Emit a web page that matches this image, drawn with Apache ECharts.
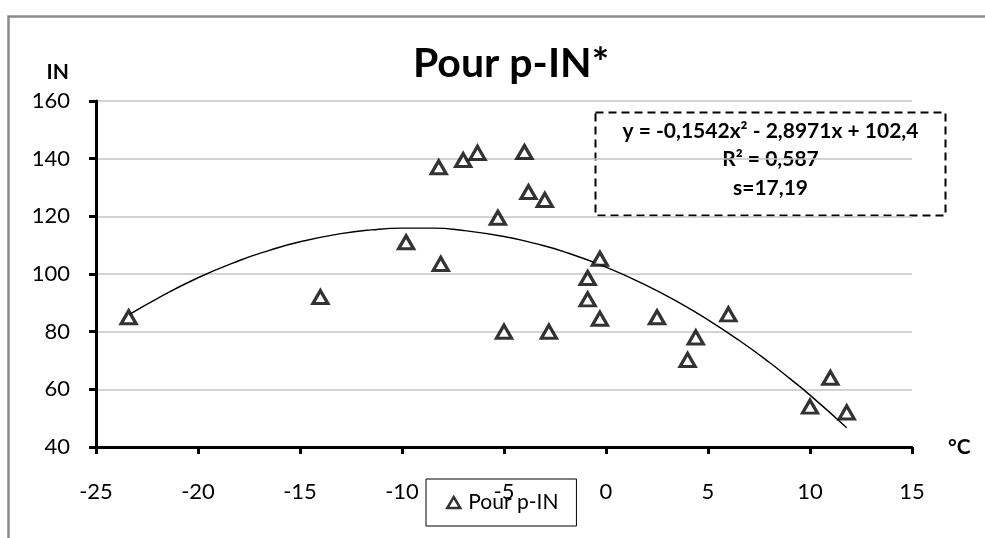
<!DOCTYPE html>
<html>
<head>
<meta charset="utf-8">
<script src="https://cdn.jsdelivr.net/npm/echarts@6/dist/echarts.min.js"></script>
<style>
  html, body { margin: 0; padding: 0; background: #fff; }
  #chart { width: 985px; height: 538px; }
</style>
</head>
<body>
<div id="chart"></div>
<script>
// temperature (°C) and IN values
var temp_c = [-23.4, -14.0, -9.8, -8.2, -8.1, -7.0, -6.3, -5.3, -5.0, -4.0, -3.8, -3.0, -2.8,
              -0.9, -0.9, -0.3, -0.3, 2.5, 4.0, 4.4, 6.0, 10.0, 11.0, 11.8];
var in_values = [85, 92, 111, 137, 103.5, 139.5, 142, 119.5, 80, 142.3, 128.4, 125.7, 80,
                 98.6, 91.2, 105.3, 84.5, 85, 70.2, 78, 86, 54, 64, 52];

// trend curve, sampled from the drawn line
var trend_x = [-23.4, -22, -20, -18, -16.5, -15, -13, -11.5, -10, -8.5, -7, -5, -3.5, -2,
               0, 2, 3.5, 5, 6.5, 8, 9, 10, 11.8];
var trend_y = [85.8, 91.5, 98.7, 104.6, 108.2, 111.2, 114, 115.3, 115.9, 115.9, 115.1, 113, 110.6, 107.6,
               102.4, 96, 90.4, 84.1, 77.1, 69.4, 63.8, 58, 46.7];

var x_ticks = { min: -25, max: 15, interval: 5 };
var y_ticks = { min: 40, max: 160, interval: 20 };

var eq_lines = ['y = -0,1542x² - 2,8971x + 102,4', 'R² = 0,587', 's=17,19'];

var FONT = 'Lato';

var CHART = {
    init: function(){
        var _this = this;
        var myChart = echarts.init(document.getElementById('chart'));
        myChart.setOption(_this.build_option());
    },
    pairs: function(xs, ys){
        var out = [];
        for (var i = 0; i < xs.length; i++){
            out.push([xs[i], ys[i]]);
        }
        return out;
    },
    build_option: function(){
        var _this = this;
        var option = {
            animation: false,
            backgroundColor: '#fff',
            textStyle: { fontFamily: FONT },
            title: {
                text: 'Pour p-IN*',
                left: 506,
                textAlign: 'center',
                top: 38,
                textStyle: { fontFamily: FONT, fontSize: 41, fontWeight: 'bold', color: '#000' }
            },
            legend: {
                data: [{ name: 'Pour p-IN', icon: 'triangle' }],
                left: 426,
                top: 479,
                padding: [13, 18, 13, 20],
                borderColor: '#000',
                borderWidth: 1,
                itemWidth: 13,
                itemHeight: 11,
                itemGap: 4,
                itemStyle: { color: '#fff', borderColor: '#000', borderWidth: 2.5 },
                textStyle: { fontFamily: FONT, fontSize: 21, color: '#000', padding: [0, 0, 0, 3] }
            },
            grid: { left: 96, right: 73, top: 101, bottom: 91 },
            xAxis: {
                type: 'value',
                min: x_ticks.min,
                max: x_ticks.max,
                interval: x_ticks.interval,
                name: '°C',
                nameLocation: 'end',
                nameGap: 36,
                nameTextStyle: { fontFamily: FONT, fontSize: 21, fontWeight: 'bold', color: '#000',
                                 align: 'left', verticalAlign: 'middle', padding: [40, 0, 0, 0] },
                axisLine: { onZero: false, lineStyle: { color: '#000', width: 3 } },
                axisTick: { length: 7, lineStyle: { color: '#000', width: 3 } },
                axisLabel: { fontFamily: FONT, fontSize: 22, color: '#000', margin: 34 },
                splitLine: { show: false }
            },
            yAxis: {
                type: 'value',
                min: y_ticks.min,
                max: y_ticks.max,
                interval: y_ticks.interval,
                name: 'IN',
                nameLocation: 'end',
                nameGap: 29,
                nameTextStyle: { fontFamily: FONT, fontSize: 21, fontWeight: 'bold', color: '#000',
                                 align: 'right', verticalAlign: 'middle', padding: [0, 27, 0, 0] },
                axisLine: { show: true, onZero: false, lineStyle: { color: '#000', width: 3 } },
                axisTick: { show: true, length: 7, lineStyle: { color: '#000', width: 3 } },
                axisLabel: { fontFamily: FONT, fontSize: 22, color: '#000', margin: 26 },
                splitLine: { show: true, lineStyle: { color: '#c4c4c4', width: 1.5 } }
            },
            series: [
                {
                    name: 'trend',
                    type: 'line',
                    data: _this.pairs(trend_x, trend_y),
                    smooth: true,
                    showSymbol: false,
                    silent: true,
                    lineStyle: { color: '#000', width: 1.4 },
                    z: 2
                },
                {
                    name: 'Pour p-IN',
                    type: 'scatter',
                    data: _this.pairs(temp_c, in_values),
                    symbol: 'triangle',
                    symbolSize: [15, 13],
                    itemStyle: { color: '#fff', borderColor: '#000', borderWidth: 3.2 },
                    z: 5
                }
            ],
            graphic: _this.build_graphic()
        };
        return option;
    },
    build_graphic: function(){
        var texts = [];
        var line_y = [19, 47, 76];
        for (var i = 0; i < eq_lines.length; i++){
            texts.push({
                type: 'text',
                x: 175,
                y: line_y[i],
                style: {
                    text: eq_lines[i],
                    align: 'center', verticalAlign: 'middle',
                    font: 'bold 21px ' + FONT,
                    fill: '#000'
                }
            });
        }
        return [
            {
                // outer frame of the chart area
                type: 'rect',
                left: 6, top: 14,
                shape: { x: 0, y: 0, width: 1200, height: 800 },
                style: { fill: 'none', stroke: '#8a8a8a', lineWidth: 2.5 },
                silent: true
            },
            {
                type: 'group',
                left: 593, top: 110,
                children: [
                    {
                        type: 'rect',
                        shape: { x: 0, y: 0, width: 350, height: 103 },
                        style: { fill: 'none', stroke: '#000', lineWidth: 2, lineDash: [8, 5] }
                    }
                ].concat(texts),
                z: 10
            }
        ];
    }
};

CHART.init();
</script>
</body>
</html>
